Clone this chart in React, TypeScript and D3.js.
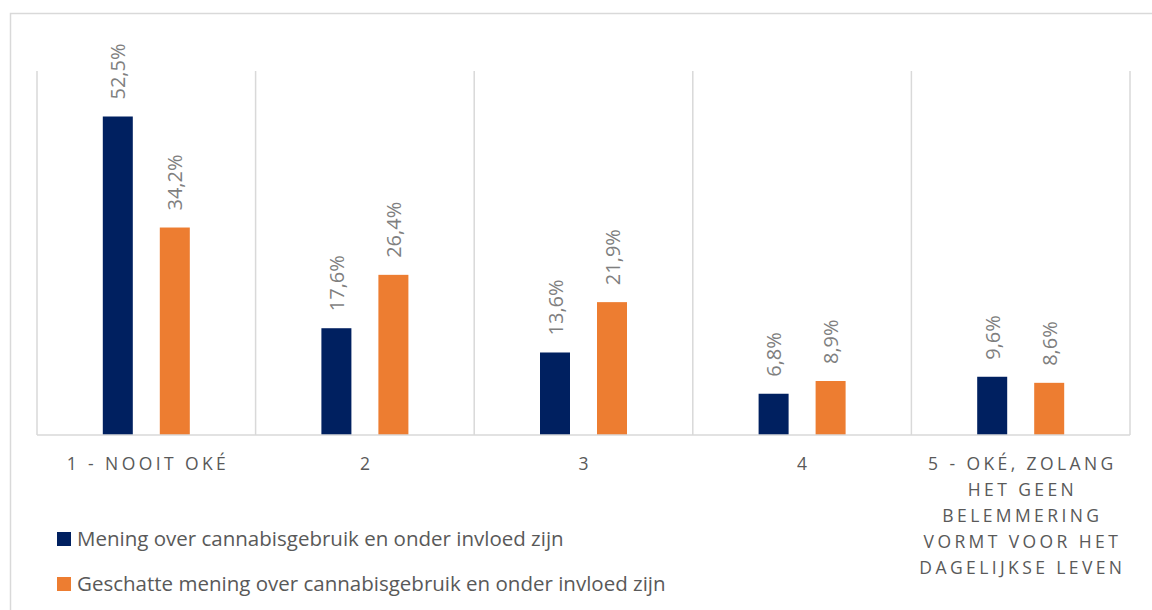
import React from "react";
import * as d3 from "d3";

const categories = ["1 - NOOIT OKÉ", "2", "3", "4", "5 - OKÉ, ZOLANG HET GEEN BELEMMERING VORMT VOOR HET DAGELIJKSE LEVEN"];
const categoryLines = [
  ["1 - NOOIT OKÉ"],
  ["2"],
  ["3"],
  ["4"],
  ["5 - OKÉ, ZOLANG", "HET GEEN", "BELEMMERING", "VORMT VOOR HET", "DAGELIJKSE LEVEN"],
];
const seriesNames = [
  "Mening over cannabisgebruik en onder invloed zijn",
  "Geschatte mening over cannabisgebruik en onder invloed zijn",
];
const series1 = [52.5, 17.6, 13.6, 6.8, 9.6];
const series2 = [34.2, 26.4, 21.9, 8.9, 8.6];
const colors = ["#002060", "#ED7D31"];

const W = 1152;
const H = 610;
const plotLeft = 37;
const plotRight = 1130;
const plotTop = 71;
const plotBottom = 435;

export default function App() {
  const x0 = d3.scaleBand<string>().domain(categories).range([plotLeft, plotRight]).padding(0);
  const bw = x0.bandwidth();
  const x1 = d3
    .scaleBand<number>()
    .domain([0, 1])
    .range([bw / 2 - 43.5, bw / 2 + 43.5])
    .paddingInner(27 / 57)
    .paddingOuter(0);
  const y = d3.scaleLinear().domain([0, 60]).range([plotBottom, plotTop]);
  const all = [series1, series2];
  const fmt = (v: number) => v.toFixed(1).replace(".", ",") + "%";
  const font = "'Open Sans', 'Segoe UI', sans-serif";
  const boundaries = [...categories.map((c) => x0(c) as number), plotRight];
  const ls = 3.4;

  return (
    <svg width={W} height={H} style={{ position: "absolute", left: 0, top: 0 }}>
      <rect x={0} y={0} width={W} height={H} fill="#fff" />
      <rect x={10.5} y={13.5} width={W + 20} height={H + 20} fill="none" stroke="#d9d9d9" strokeWidth={1.5} />
      {boundaries.map((bx, i) => (
        <line key={i} x1={bx} x2={bx} y1={plotTop} y2={plotBottom} stroke="#d9d9d9" strokeWidth={1.5} />
      ))}
      {categories.map((c, ci) =>
        all.map((s, si) => {
          const bx = (x0(c) as number) + (x1(si) as number);
          const v = s[ci];
          const cx = bx + x1.bandwidth() / 2;
          const ty = y(v) - 17;
          return (
            <g key={c + si}>
              <rect x={bx} y={y(v)} width={x1.bandwidth()} height={plotBottom - y(v)} fill={colors[si]} />
              <text
                transform={`translate(${cx + 7.5},${ty}) rotate(-90)`}
                fontFamily={font}
                fontSize={20}
                fill="#7f7f7f"
                textAnchor="start"
              >
                {fmt(v)}
              </text>
            </g>
          );
        })
      )}
      <line x1={plotLeft} x2={plotRight} y1={plotBottom} y2={plotBottom} stroke="#d9d9d9" strokeWidth={1.5} />
      {categories.map((c, ci) => (
        <text
          key={c}
          textAnchor="middle"
          fontFamily={font}
          fontSize={17.5}
          letterSpacing={ls}
          fill="#595959"
        >
          {categoryLines[ci].map((l, li) => (
            <tspan key={li} x={(x0(c) as number) + bw / 2 + ls / 2} y={470 + li * 26}>
              {l}
            </tspan>
          ))}
        </text>
      ))}
      {seriesNames.map((n, i) => (
        <g key={n} transform={`translate(57,${532 + i * 45})`}>
          <rect x={0} y={0} width={14} height={14} fill={colors[i]} />
          <text x={20} y={14} fontFamily={font} fontSize={20.5} fill="#595959">
            {n}
          </text>
        </g>
      ))}
    </svg>
  );
}
